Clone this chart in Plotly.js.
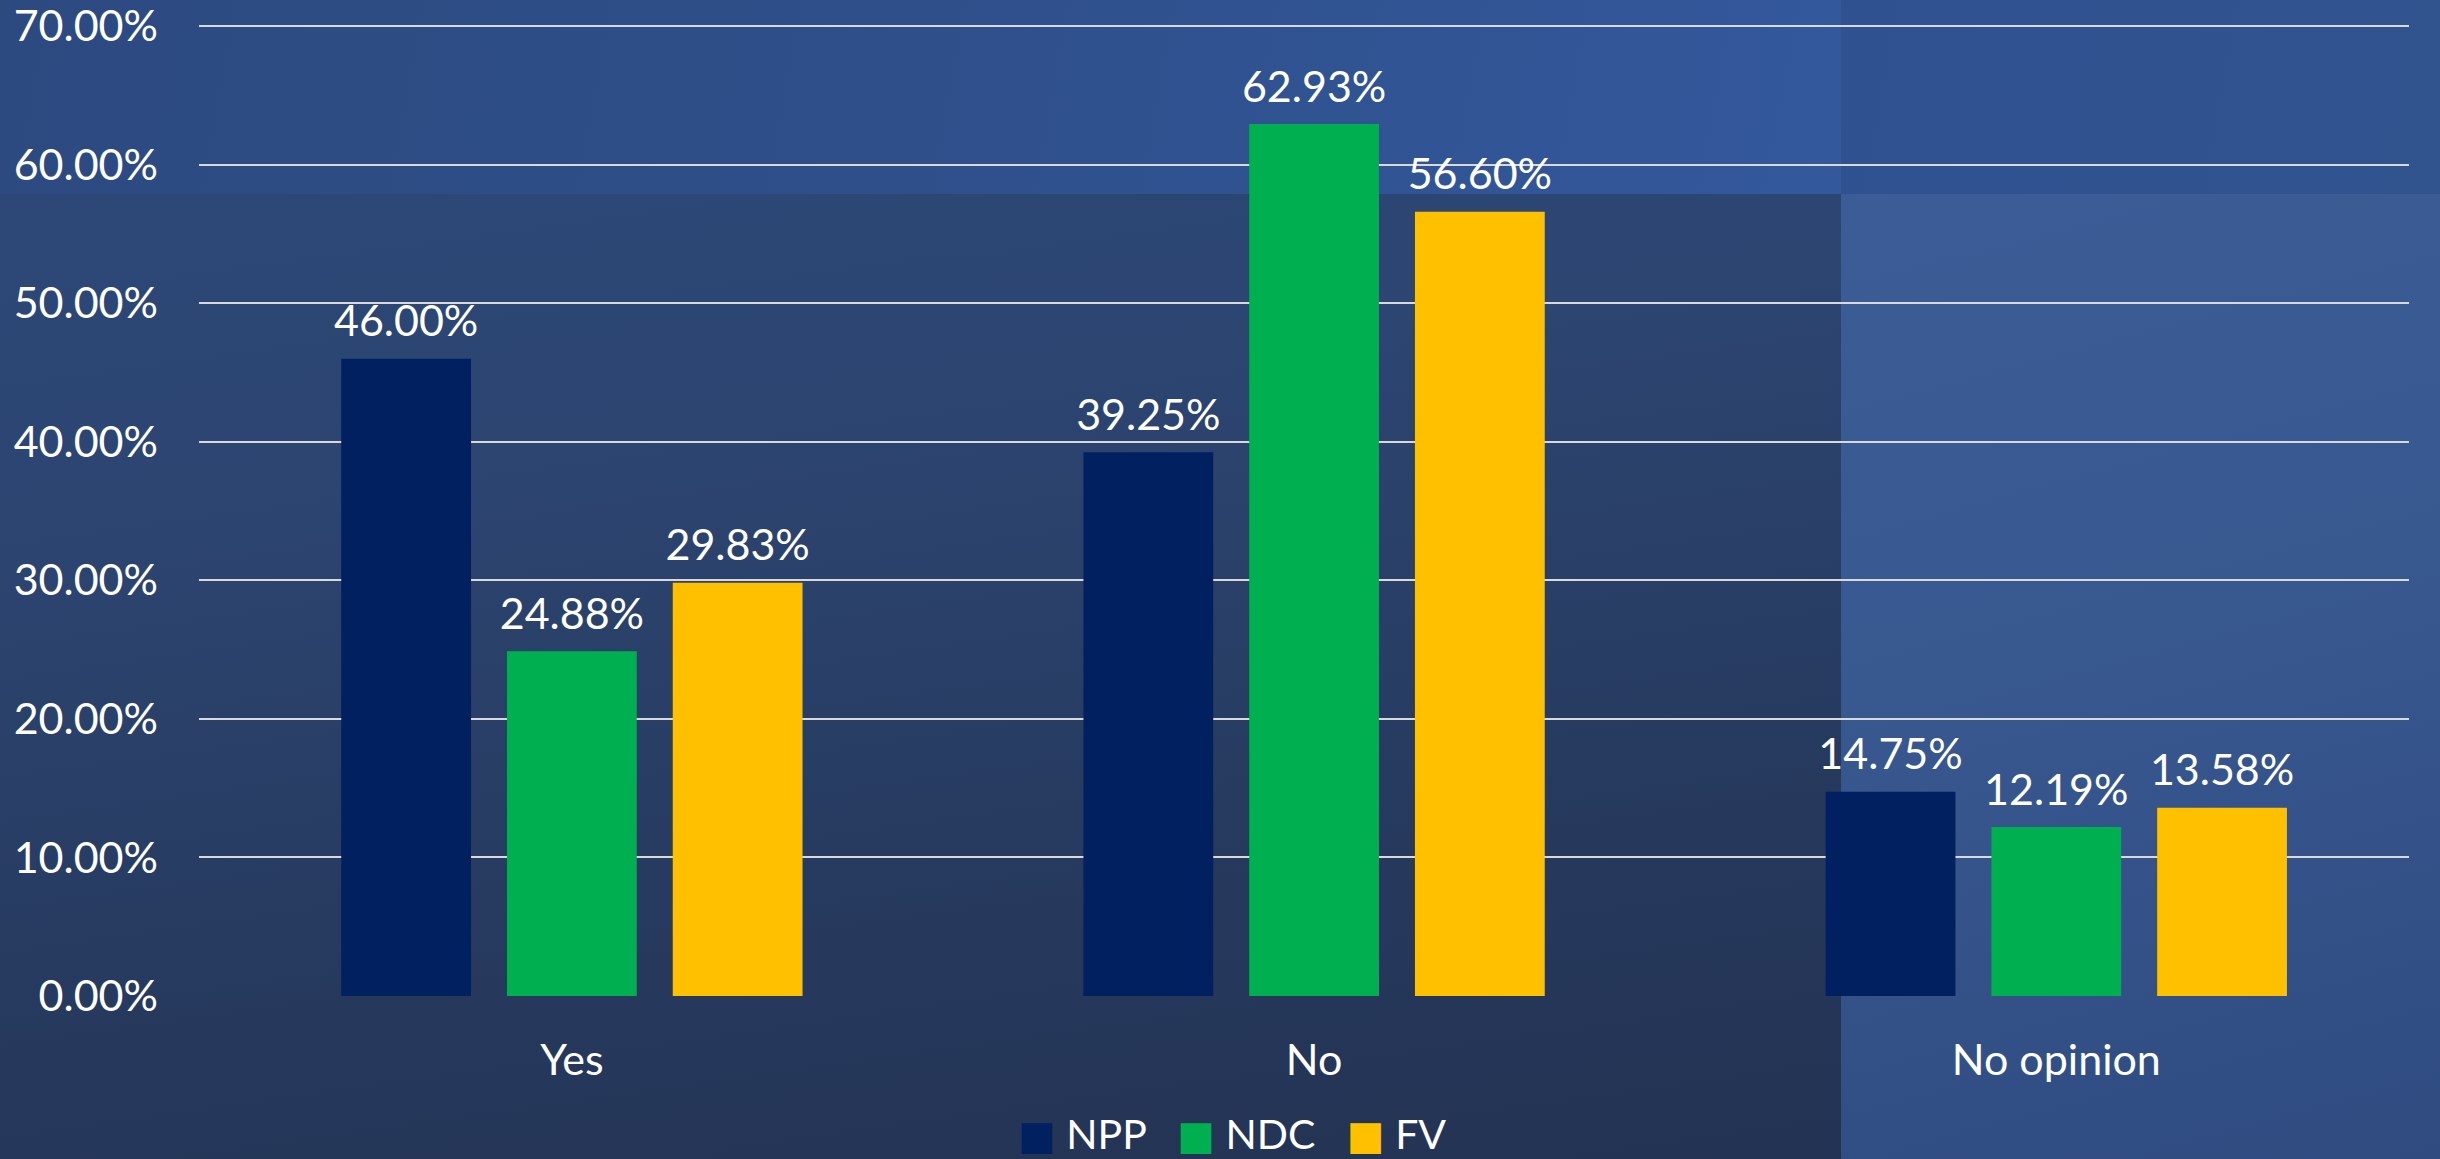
<!DOCTYPE html>
<html>
<head>
<meta charset="utf-8">
<script src="https://cdn.plot.ly/plotly-3.0.1.min.js"></script>
<style>
  html, body { margin:0; padding:0; width:2440px; height:1159px; overflow:hidden; }
  #bg { position:absolute; left:0; top:0; width:2440px; height:1159px;
        background: linear-gradient(172deg, #2d497b 0%, #2c4571 35%, #26395d 70%, #223150 100%); }
  #band { position:absolute; left:0; top:0; width:1841px; height:194px;
        background: linear-gradient(100deg, #2c4a80 0%, #2e4f8a 50%, #33589c 100%); }
  #panel { position:absolute; left:1841px; top:194px; width:599px; height:965px;
        background: linear-gradient(165deg, #3c5c97 0%, #385890 45%, #2f4b80 100%); }
  #corner { position:absolute; left:1841px; top:0; width:599px; height:194px;
        background: linear-gradient(100deg, #2f5190 0%, #31548f 100%); }
  #chart { position:absolute; left:0; top:0; width:2440px; height:1159px; }
</style>
</head>
<body>
<div id="bg"></div><div id="band"></div><div id="corner"></div><div id="panel"></div>
<div id="chart"></div>
<script>
const categories = ["Yes", "No", "No opinion"];
const seriesNames = ["NPP", "NDC", "FV"];
const nppValues = [46.00, 39.25, 14.75];
const ndcValues = [24.88, 62.93, 12.19];
const fvValues  = [29.83, 56.60, 13.58];
const seriesColors = ["#002060", "#00B050", "#FFC000"];
const yTicks = [0, 10, 20, 30, 40, 50, 60, 70];

const FONT = "Lato, 'Open Sans', sans-serif";
const seriesValues = [nppValues, ndcValues, fvValues];
const LABEL_PAD = 0.75; // gap (in axis units) between bar top and its value label

// the bars
const barTraces = seriesNames.map((name, i) => ({
  type: "bar",
  name: name,
  x: categories,
  y: seriesValues[i],
  offsetgroup: "g" + i,
  marker: { color: seriesColors[i] },
  hoverinfo: "skip",
  showlegend: false
}));

// value labels: transparent bars sharing each bar's slot, lifted by a small pad
const labelTraces = seriesNames.map((name, i) => ({
  type: "bar",
  name: name + " label",
  x: categories,
  y: seriesValues[i],
  base: LABEL_PAD,
  offsetgroup: "g" + i,
  marker: { color: "rgba(0,0,0,0)" },
  text: seriesValues[i].map(v => v.toFixed(2) + "%"),
  textposition: "outside",
  constraintext: "none",
  textfont: { color: "#ffffff", size: 43, family: FONT },
  cliponaxis: false,
  hoverinfo: "skip",
  showlegend: false
}));

const legendText = seriesNames.map((n, i) =>
  `<span style="color:${seriesColors[i]};font-family:'DejaVu Sans';font-size:40px">■</span> ${n}`
).join("&nbsp;&nbsp;&nbsp;");

const layout = {
  width: 2440, height: 1159,
  margin: { l: 199, r: 31, t: 25, b: 163 },
  paper_bgcolor: "rgba(0,0,0,0)",
  plot_bgcolor: "rgba(0,0,0,0)",
  barmode: "group",
  bargap: 0.33,
  bargroupgap: 0.217,
  font: { family: FONT, color: "#ffffff", size: 43 },
  xaxis: {
    type: "category",
    range: [-0.5024, 2.4752],
    showgrid: false, zeroline: false, showline: false,
    ticks: "", ticklabelstandoff: 35,
    tickfont: { size: 43, color: "#ffffff", family: FONT }
  },
  yaxis: {
    range: [0, 70.08],
    tickvals: yTicks,
    ticktext: yTicks.map(v => v.toFixed(2) + "%"),
    showgrid: true, gridcolor: "#d9d9d9", gridwidth: 2,
    zeroline: false, showline: false, ticks: "",
    ticklabelstandoff: 40,
    ticklabeloverflow: "allow",
    tickfont: { size: 43, color: "#ffffff", family: FONT }
  },
  showlegend: false,
  annotations: [{
    xref: "paper", yref: "paper",
    x: 0.4675, y: -0.142, xanchor: "center", yanchor: "middle",
    showarrow: false, text: legendText,
    font: { size: 41, color: "#ffffff", family: FONT }
  }]
};

Plotly.newPlot("chart", barTraces.concat(labelTraces), layout, { staticPlot: true, displayModeBar: false });
</script>
</body>
</html>
